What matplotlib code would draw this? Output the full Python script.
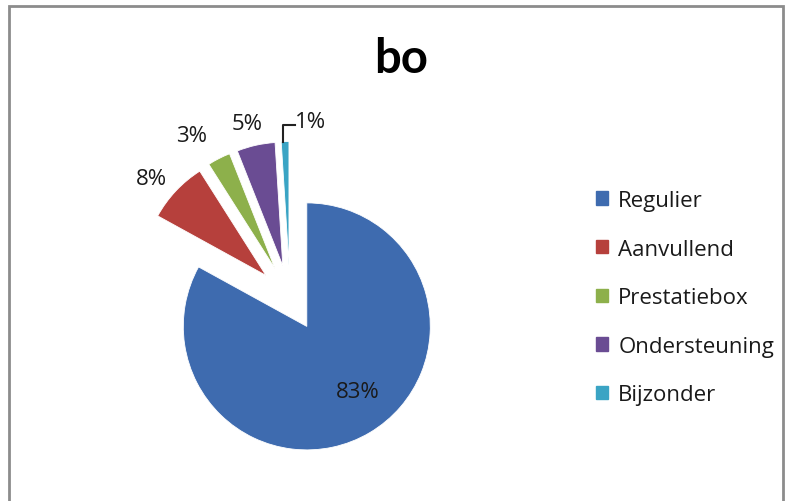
import matplotlib
matplotlib.use("Agg")
import matplotlib.pyplot as plt
from matplotlib.patches import Rectangle, Patch
import numpy as np

categories = ["Regulier", "Aanvullend", "Prestatiebox", "Ondersteuning", "Bijzonder"]
values = [83, 8, 3, 5, 1]
pct_labels = ["83%", "8%", "3%", "5%", "1%"]
colors = ["#3E6BAF", "#B6403C", "#8DB04B", "#6A4C93", "#3AA4C4"]
title = "bo"

plt.rcParams['font.family'] = ['Open Sans', 'DejaVu Sans']

W, H = 792, 502
fig = plt.figure(figsize=(W / 100, H / 100), dpi=100)
ax = fig.add_axes([0, 0, 1, 1])

# frame
fig.patches.append(Rectangle((9 / W, -0.01), (783 - 9) / W, 1 - 7 / H + 0.01,
                             transform=fig.transFigure, fill=False,
                             edgecolor="#8C8C8C", linewidth=2))

cx, cy, R = 290, H - 299, 123.5
EXP = 33
wedges, _ = ax.pie(values, colors=colors, startangle=90, counterclock=False,
                   explode=[EXP] * 5, radius=R, center=(cx, cy), frame=True,
                   wedgeprops=dict(linewidth=0.6, edgecolor="white"))
ax.set_xlim(0, W)
ax.set_ylim(0, H)
ax.set_aspect('equal')
ax.axis('off')

fs = 16
tc = "#1a1a1a"
label_dist = [0.67, 1.21, 1.27, 1.19]
label_rot = [7.5, 3.0, 5.2, 1.4]
for i, w in enumerate(wedges):
    wx, wy = w.center
    if i == 4:
        mid = np.deg2rad((w.theta1 + w.theta2) / 2)
        x0 = wx + R * np.cos(mid) - 2
        y0 = wy + R * np.sin(mid)
        ax.plot([x0, x0, x0 + 12], [y0, y0 + 17, y0 + 17], color="#222222", lw=1.5)
        ax.text(x0 + 12, y0 + 20, pct_labels[i], ha='left', va='center',
                fontsize=fs, color=tc)
    else:
        mid = np.deg2rad((w.theta1 + w.theta2) / 2 + label_rot[i])
        d = label_dist[i]
        ax.text(wx + d * R * np.cos(mid), wy + d * R * np.sin(mid),
                pct_labels[i], ha='center', va='center', fontsize=fs, color=tc)

handles = [Patch(facecolor=c, edgecolor=c, label=l) for c, l in zip(colors, categories)]
fig.legend(handles=handles, loc='upper left', bbox_to_anchor=(596 / W, 1 - 191 / H),
           frameon=False, fontsize=fs, handlelength=0.55, handleheight=0.55,
           handletextpad=0.45, labelspacing=1.24, borderpad=0, borderaxespad=0,
           labelcolor=tc)

fig.text(401.5 / W, 1 - 73 / H, title, ha='center', va='baseline',
         fontsize=34, fontweight='bold', color="black", family=['Lato', 'DejaVu Sans'])

fig.savefig("out.png", dpi=100)
